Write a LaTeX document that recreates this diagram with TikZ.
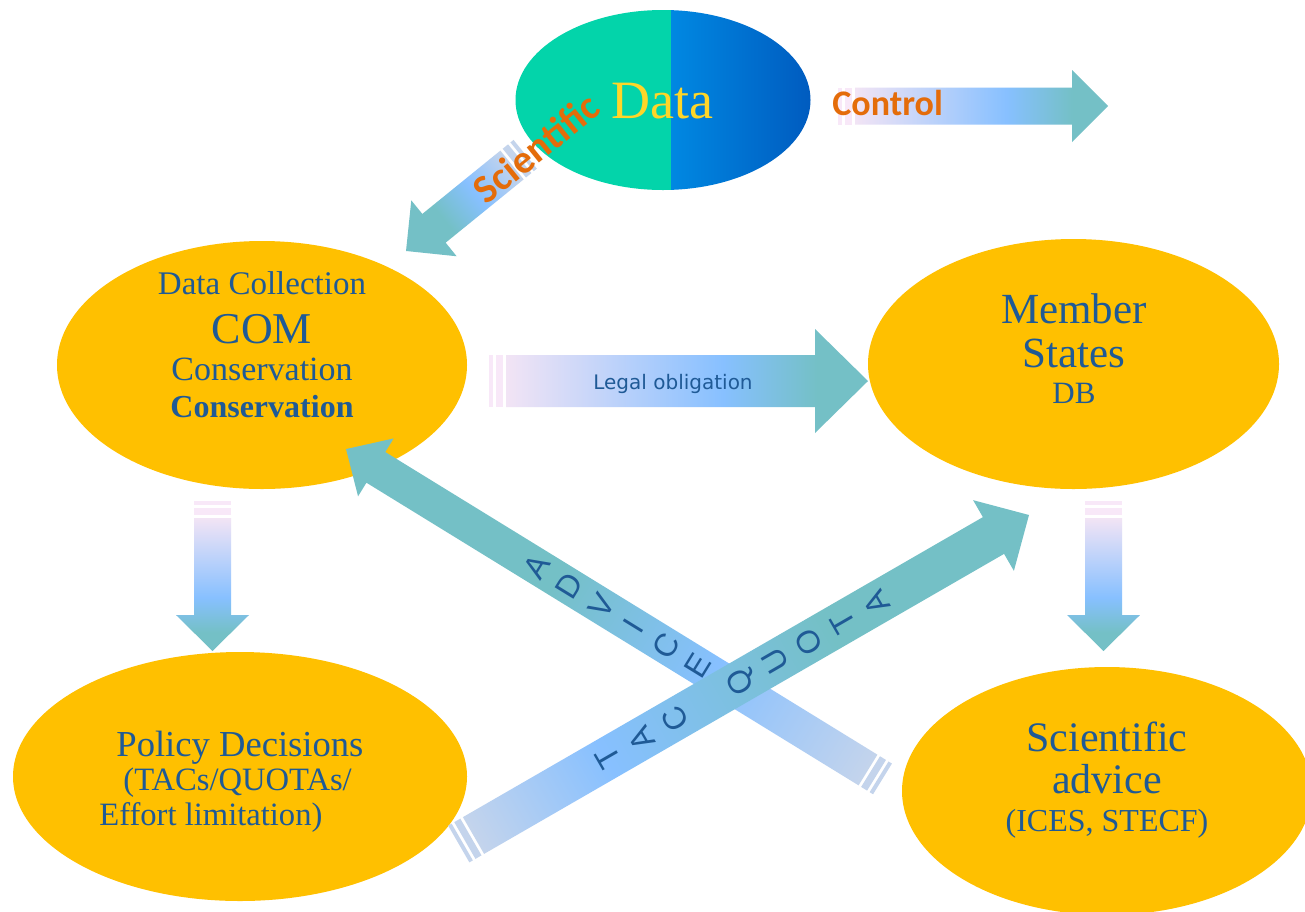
\documentclass[tikz,border=0pt]{standalone}
\usepackage{fontspec}
\setmainfont{Liberation Serif}
\newfontfamily\carlito{Carlito}
\newfontfamily\dvsans{DejaVu Sans}
\newfontfamily\lsans{Liberation Sans}
\usetikzlibrary{shapes.geometric}
\definecolor{cLav}{RGB}{242,228,245}
\definecolor{cBlue}{RGB}{135,192,255}
\definecolor{cTeal}{RGB}{116,192,198}
\definecolor{cPale}{RGB}{196,212,236}
\definecolor{cStripe}{RGB}{248,232,248}
\definecolor{cYellow}{RGB}{255,192,0}
\definecolor{cText}{RGB}{31,90,150}
\definecolor{cOrange}{RGB}{228,108,10}
\definecolor{cDataTxt}{RGB}{255,214,40}
\definecolor{cGreen}{RGB}{3,212,170}
\definecolor{cBlueA}{RGB}{0,136,226}
\definecolor{cBlueB}{RGB}{0,90,190}
\pgfdeclarehorizontalshading{lavshade}{100bp}{color(0bp)=(cLav); color(25bp)=(cLav); color(55bp)=(cBlue); color(68bp)=(cTeal); color(100bp)=(cTeal)}
\pgfdeclarehorizontalshading{advshade}{100bp}{color(0bp)=(cPale); color(25bp)=(cPale); color(40bp)=(cBlue); color(55bp)=(cTeal); color(100bp)=(cTeal)}
\pgfdeclarehorizontalshading{tacshade}{100bp}{color(0bp)=(cPale); color(25bp)=(cPale); color(37bp)=(cBlue); color(57bp)=(cTeal); color(100bp)=(cTeal)}
\pgfdeclarehorizontalshading{scishade}{100bp}{color(0bp)=(cPale); color(25bp)=(cPale); color(42bp)=(cBlue); color(57bp)=(cTeal); color(100bp)=(cTeal)}
\newcommand\fsz[1]{\fontsize{#1pt}{#1pt}\selectfont}
% #1 tail coord, #2 tip coord, #3 shaft half width (pt), #4 head half width (pt), #5 head length (pt), #6 shading, #7 stripe colour
\newcommand\blockarrow[7]{%
  \path (#1); \pgfgetlastxy{\bax}{\bay}%
  \path (#2); \pgfgetlastxy{\bbx}{\bby}%
  \pgfmathsetmacro\bang{atan2(\bby-\bay,\bbx-\bax)}%
  \pgfmathsetmacro\blen{veclen(\bbx-\bax,\bby-\bay)}%
  \pgfmathsetmacro\bneck{\blen-#5}%
  \begin{scope}[transform canvas={shift={(\bax,\bay)},rotate=\bang}]
    \fill[#7] (-8.5pt,-#3pt) rectangle (-6.5pt,#3pt);
    \fill[#7] (-5pt,-#3pt) rectangle (-1.5pt,#3pt);
    \shade[shading=#6] (0pt,-#3pt) -- (\bneck pt,-#3pt) -- (\bneck pt,-#4pt) -- (\blen pt,0pt)
      -- (\bneck pt,#4pt) -- (\bneck pt,#3pt) -- (0pt,#3pt) -- cycle;
  \end{scope}}
\begin{document}
\begin{tikzpicture}[x=0.5pt,y=-0.5pt,
  blob/.style={ellipse, fill=cYellow, inner sep=0pt, draw=none},
  txt/.style={inner sep=0pt, text=cText, anchor=base},
  letr/.style={inner sep=0pt, text=cText, font=\lsans\fsz{16}}]
\useasboundingbox (0,0) rectangle (1305,911);
\fill[white] (0,0) rectangle (1305,911);

% ellipses
\node[ellipse, inner sep=0pt, minimum width=147.5pt, minimum height=90pt] (data) at (663,100) {};
\begin{scope}
  \clip (data.center) ellipse [x radius=73.75pt, y radius=45pt];
  \fill[cGreen] (500,0) rectangle (671,200);
  \shade[left color=cBlueA, right color=cBlueB] (671,0) rectangle (815,200);
\end{scope}
\node[blob, minimum width=205pt, minimum height=124pt] (dc) at (262,365) {};
\node[blob, minimum width=205.5pt, minimum height=125pt] (ms) at (1073.5,364) {};
\node[blob, minimum width=227pt, minimum height=124.5pt] (pd) at (240,776.5) {};
\node[blob, minimum width=205pt, minimum height=124pt] (sa) at (1107,791) {};

% arrow end points
\coordinate (sciA) at (512,165);   \coordinate (sciB) at (406,251);
\coordinate (ctlA) at (855,106);   \coordinate (ctlB) at (1108,106);
\coordinate (legA) at (506,381);   \coordinate (legB) at (868,381);
\coordinate (dlA) at (212.5,518);  \coordinate (dlB) at (212.5,651);
\coordinate (drA) at (1103.5,518); \coordinate (drB) at (1103.5,651);
\coordinate (advA) at (868,770);   \coordinate (advB) at (346,449);
\coordinate (tacA) at (473.5,835.5); \coordinate (tacB) at (1029,515);

\blockarrow{sciA}{sciB}{9.25}{18}{18}{scishade}{cPale}
\blockarrow{ctlA}{ctlB}{9.25}{18}{18}{lavshade}{cStripe}
\blockarrow{legA}{legB}{13}{26}{26.5}{lavshade}{cStripe}
\blockarrow{dlA}{dlB}{9.25}{18.25}{18}{lavshade}{cStripe}
\blockarrow{drA}{drB}{9.25}{18.25}{18}{lavshade}{cStripe}
\blockarrow{advA}{advB}{9}{17}{17.5}{advshade}{cPale}

\foreach \k/\ch in {0/A,1/D,2/V,3/I,4/C,5/E}
  \node[letr, rotate=58.4] (adv\k) at ({346+0.852*(224+37.8*\k)},{449+0.524*(224+37.8*\k)}) {\ch};

\blockarrow{tacA}{tacB}{10.6}{20.4}{20.5}{tacshade}{cPale}

\foreach \k/\ch in {0/T,1/A,2/C,4/Q,5/U,6/O,7/T,8/A}
  \node[letr, rotate=120] (tac\k) at ({473.5+0.866*(155+38.75*\k)},{835.5-0.5*(155+38.75*\k)}) {\ch};

% top texts
\node[txt, text=cDataTxt, font=\fsz{27}] (datat) at (662.5,118) {Data};
\node[txt, text=cOrange, font=\carlito\bfseries\fsz{18}, anchor=base west] (ctlt) at (832,115) {Control};
\node[inner sep=0pt, text=cOrange, font=\carlito\bfseries\fsz{20}, rotate=39] (scit) at (536,148) {Scientific};
\node[txt, font=\dvsans\fsz{10}] (legalt) at (673,389) {Legal obligation};

% Data Collection
\node[txt, font=\fsz{16.5}] (dc1) at (262,294) {Data Collection};
\node[txt, font=\fsz{22}] (dc2) at (262,343) {COM};
\node[txt, font=\fsz{17}] (dc3) at (262,380) {Conservation};
\node[txt, font=\bfseries\fsz{16}] (dc4) at (262,417) {Conservation};

% Member States
\node[txt, font=\fsz{21.5}] (ms1) at (1074,323) {Member};
\node[txt, font=\fsz{21.5}] (ms2) at (1074,367) {States};
\node[txt, font=\fsz{15.5}] (ms3) at (1074,403) {DB};

% Scientific advice
\node[txt, font=\fsz{21}] (sa1) at (1107,751) {Scientific};
\node[txt, font=\fsz{21}] (sa2) at (1107,793) {advice};
\node[txt, font=\fsz{16}] (sa3) at (1107,831) {(ICES, STECF)};

% Policy Decisions
\node[txt, font=\fsz{18.3}, anchor=base west] (pd1) at (116,756) {Policy Decisions};
\node[txt, font=\fsz{16.3}, anchor=base west] (pd2) at (123,790) {(TACs/QUOTAs/};
\node[txt, font=\fsz{16.3}, anchor=base west] (pd3) at (99,825) {Effort limitation)};
\end{tikzpicture}
\end{document}
